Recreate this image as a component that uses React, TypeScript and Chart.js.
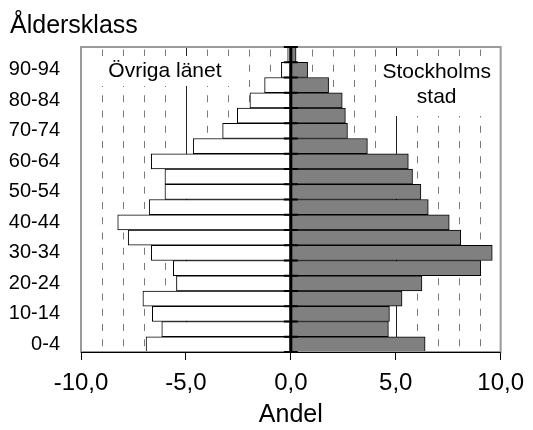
import React, { useEffect, useRef } from 'react';
import { Chart, registerables } from 'chart.js';

Chart.register(...registerables);

const ageClasses = ['0-4', '5-9', '10-14', '15-19', '20-24', '25-29', '30-34', '35-39', '40-44', '45-49', '50-54', '55-59', '60-64', '65-69', '70-74', '75-79', '80-84', '85-89', '90-94', '95+'];
const ovrigaLanet = [-6.9, -6.15, -6.6, -7.05, -5.45, -5.6, -6.65, -7.75, -8.25, -6.75, -6.0, -6.0, -6.65, -4.65, -3.25, -2.55, -1.95, -1.25, -0.45, -0.15];
const stockholmsStad = [6.4, 4.65, 4.7, 5.3, 6.25, 9.05, 9.6, 8.1, 7.55, 6.55, 6.2, 5.8, 5.6, 3.65, 2.7, 2.6, 2.45, 1.8, 0.8, 0.25];
const xMin = -10;
const xMax = 10;
const xStep = 5;
const titleText = 'Åldersklass';
const xTitleText = 'Andel';
const leftLabel = ['Övriga länet'];
const rightLabel = ['Stockholms', 'stad'];

const FONT = '"Liberation Sans", Arial, sans-serif';

const pyramidPlugin = {
  id: 'pyramid',
  beforeDatasetsDraw(chart: any) {
    const { ctx, chartArea: a, scales } = chart;
    const x = scales.x;
    const rowH = (a.bottom - a.top) / ageClasses.length;
    ctx.save();
    // minor dashed gridlines
    ctx.strokeStyle = '#7a7a7a';
    ctx.lineWidth = 1;
    ctx.setLineDash([7, rowH - 7]);
    ctx.lineDashOffset = -2.5;
    for (let v = xMin + 1; v < xMax; v++) {
      if (v % 5 === 0) continue;
      const px = Math.round(x.getPixelForValue(v)) + 0.5;
      ctx.beginPath();
      ctx.moveTo(px, a.top);
      ctx.lineTo(px, a.bottom);
      ctx.stroke();
    }
    ctx.setLineDash([]);
    // major lines
    ctx.strokeStyle = '#222';
    for (const v of [-5, 5]) {
      const px = Math.round(x.getPixelForValue(v)) + 0.5;
      ctx.beginPath();
      ctx.moveTo(px, a.top);
      ctx.lineTo(px, a.bottom);
      ctx.stroke();
    }
    // label boxes
    ctx.fillStyle = '#fff';
    const lx1 = x.getPixelForValue(-9.6), lx2 = x.getPixelForValue(-2.5);
    ctx.fillRect(lx1, a.top + 9, lx2 - lx1, 30);
    const rx1 = x.getPixelForValue(4.4), rx2 = a.right - 1;
    ctx.fillRect(rx1, a.top + 9, rx2 - rx1, 60);
    // label texts
    ctx.fillStyle = '#000';
    ctx.font = `21px ${FONT}`;
    ctx.textAlign = 'center';
    ctx.textBaseline = 'alphabetic';
    ctx.fillText(leftLabel[0], x.getPixelForValue(-6.0), a.top + 29.5);
    ctx.fillText(rightLabel[0], x.getPixelForValue(6.95), a.top + 31);
    ctx.fillText(rightLabel[1], x.getPixelForValue(6.95), a.top + 56);
    ctx.restore();
  },
  afterDatasetsDraw(chart: any) {
    const { ctx, chartArea: a, scales } = chart;
    const x = scales.x;
    const rowH = (a.bottom - a.top) / ageClasses.length;
    ctx.save();
    // frame
    ctx.strokeStyle = '#9a9a9a';
    ctx.lineWidth = 2;
    ctx.strokeRect(a.left, a.top, a.right - a.left, a.bottom - a.top);
    // bottom axis line
    ctx.strokeStyle = '#000';
    ctx.lineWidth = 1;
    ctx.beginPath();
    ctx.moveTo(a.left, Math.round(a.bottom) + 0.5);
    ctx.lineTo(a.right, Math.round(a.bottom) + 0.5);
    ctx.stroke();
    // center axis
    const cx = x.getPixelForValue(0);
    ctx.lineWidth = 3;
    ctx.beginPath();
    ctx.moveTo(cx, a.top);
    ctx.lineTo(cx, a.bottom);
    ctx.stroke();
    ctx.lineWidth = 2;
    for (let k = 0; k <= ageClasses.length; k++) {
      const py = a.top + k * rowH;
      ctx.beginPath();
      ctx.moveTo(cx - 7, py);
      ctx.lineTo(cx + 7, py);
      ctx.stroke();
    }
    ctx.restore();
  },
  afterDraw(chart: any) {
    const { ctx } = chart;
    ctx.save();
    ctx.fillStyle = '#000';
    ctx.font = `25px ${FONT}`;
    ctx.textAlign = 'left';
    ctx.textBaseline = 'alphabetic';
    ctx.fillText(titleText, 10, 33);
    ctx.restore();
  },
};

export default function App() {
  const ref = useRef<HTMLCanvasElement | null>(null);
  useEffect(() => {
    if (!ref.current) return;
    const chart = new Chart(ref.current, {
      type: 'bar',
      data: {
        labels: ageClasses,
        datasets: [
          {
            label: leftLabel[0],
            data: ovrigaLanet,
            backgroundColor: '#ffffff',
            borderColor: '#000000',
            borderWidth: 1,
            borderSkipped: false,
            barPercentage: 1,
            categoryPercentage: 1,
          },
          {
            label: rightLabel.join(' '),
            data: stockholmsStad,
            backgroundColor: '#808080',
            borderColor: '#000000',
            borderWidth: 1,
            borderSkipped: false,
            barPercentage: 1,
            categoryPercentage: 1,
          },
        ],
      },
      options: {
        indexAxis: 'y',
        animation: false,
        responsive: false,
        maintainAspectRatio: false,
        layout: { padding: { top: 47, right: 26, left: 0, bottom: 0 } },
        plugins: {
          legend: { display: false },
          tooltip: { enabled: false },
          title: { display: false },
        },
        scales: {
          x: {
            type: 'linear',
            min: xMin,
            max: xMax,
            stacked: true,
            ticks: {
              stepSize: xStep,
              callback: (v: any) => Number(v).toFixed(1).replace('.', ','),
              font: { family: FONT, size: 24 },
              color: '#000',
              padding: 9,
              maxRotation: 0,
            },
            grid: { drawOnChartArea: false, drawTicks: true, tickLength: 8, color: '#000', lineWidth: 1 },
            border: { display: false },
            title: {
              display: true,
              text: xTitleText,
              font: { family: FONT, size: 25 },
              color: '#000',
              padding: { top: 0, bottom: 0 },
            },
            afterFit: (s: any) => { s.height = 78; },
          },
          y: {
            type: 'category',
            reverse: true,
            stacked: true,
            offset: true,
            ticks: {
              autoSkip: false,
              callback: function (this: any, val: any, idx: number) {
                return idx % 2 === 0 ? this.getLabelForValue(val) : '';
              },
              font: { family: FONT, size: 20 },
              color: '#000',
              padding: 21,
            },
            grid: { display: false, drawTicks: false },
            border: { display: false },
            afterFit: (s: any) => { s.width = 81; },
          },
        },
      },
      plugins: [pyramidPlugin],
    } as any);
    return () => chart.destroy();
  }, []);
  return (
    <canvas
      ref={ref}
      width={533}
      height={430}
      style={{ position: 'absolute', left: 0, top: 0, display: 'block' }}
    />
  );
}
